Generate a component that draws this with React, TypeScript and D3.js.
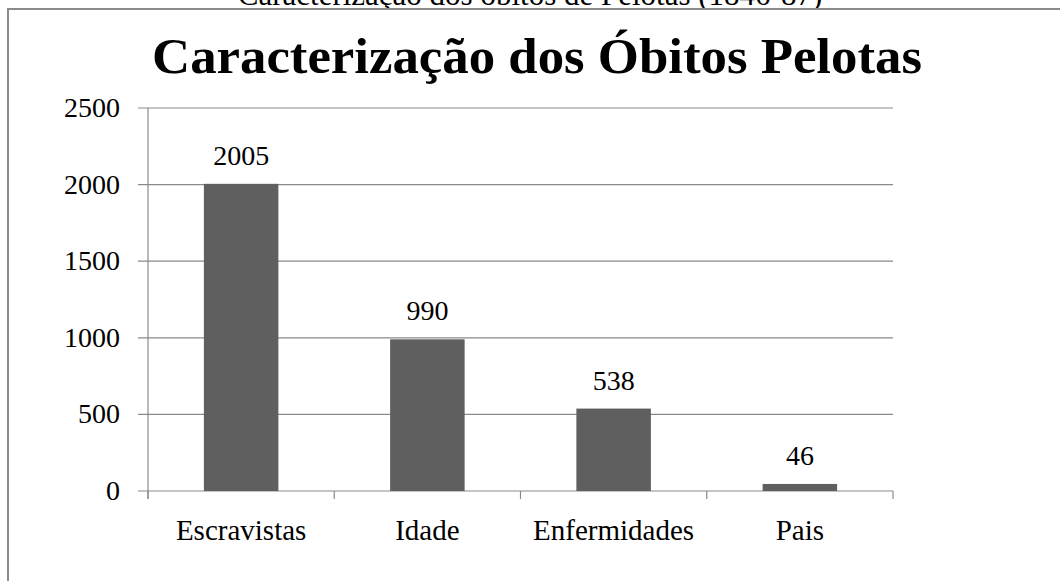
import React from "react";
import { scaleBand, scaleLinear } from "d3";

// data
const categories = ["Escravistas", "Idade", "Enfermidades", "Pais"];
const deaths = [2005, 990, 538, 46];
const yTicks = [0, 500, 1000, 1500, 2000, 2500];

const chartTitle = "Caracterização dos Óbitos Pelotas";
const captionAbove = "Caracterização dos óbitos de Pelotas (1846-87)";

const W = 1060;
const H = 581;
const plot = { left: 148, right: 893, top: 108, bottom: 491 };
const serif = "'Liberation Serif', 'Times New Roman', serif";

const App = () => {
  const x = scaleBand<string>()
    .domain(categories)
    .range([plot.left, plot.right])
    .paddingInner(0)
    .paddingOuter(0);
  const y = scaleLinear().domain([0, 2500]).range([plot.bottom, plot.top]);
  const barW = x.bandwidth() * 0.4;
  const tickXs = [...categories.map((c) => x(c) as number), plot.right];

  return (
    <svg
      width={W}
      height={H}
      style={{ position: "absolute", left: 0, top: 0, background: "#fff" }}
      fontFamily={serif}
    >
      {/* caption of the page above, cut by the crop as in the source */}
      <text x={530} y={5} textAnchor="middle" fontSize={31} fill="#000">
        {captionAbove}
      </text>

      {/* chart frame */}
      <rect x={8} y={9} width={W + 20} height={H + 20} fill="#fff" stroke="#8a8a8a" strokeWidth={2} />

      <text x={537} y={73} textAnchor="middle" fontSize={50} fontWeight="bold" fill="#000"
        textLength={770} lengthAdjust="spacingAndGlyphs">
        {chartTitle}
      </text>

      {/* gridlines + y ticks */}
      {yTicks.map((t) => (
        <g key={t}>
          <line x1={plot.left - 10} x2={plot.right} y1={y(t)} y2={y(t)}
            stroke="#8a8a8a" strokeWidth={1.2} />
          <text x={120} y={y(t) + 9} textAnchor="end" fontSize={28} fill="#000">
            {t}
          </text>
        </g>
      ))}

      {/* y axis */}
      <line x1={plot.left} x2={plot.left} y1={plot.top} y2={plot.bottom + 8} stroke="#8a8a8a" strokeWidth={1.2} />

      {/* category ticks */}
      {tickXs.map((tx, i) => (
        <line key={i} x1={tx} x2={tx} y1={plot.bottom} y2={plot.bottom + 8} stroke="#8a8a8a" strokeWidth={1.2} />
      ))}

      {/* bars */}
      {categories.map((c, i) => {
        const cx = (x(c) as number) + x.bandwidth() / 2;
        return (
          <g key={c}>
            <rect x={cx - barW / 2} y={y(deaths[i])} width={barW} height={plot.bottom - y(deaths[i])} fill="#5f5f5f" />
            <text x={cx} y={y(deaths[i]) - 19} textAnchor="middle" fontSize={28} fill="#000">
              {deaths[i]}
            </text>
            <text x={cx} y={540} textAnchor="middle" fontSize={29} fill="#000">
              {c}
            </text>
          </g>
        );
      })}
    </svg>
  );
};

export default App;
